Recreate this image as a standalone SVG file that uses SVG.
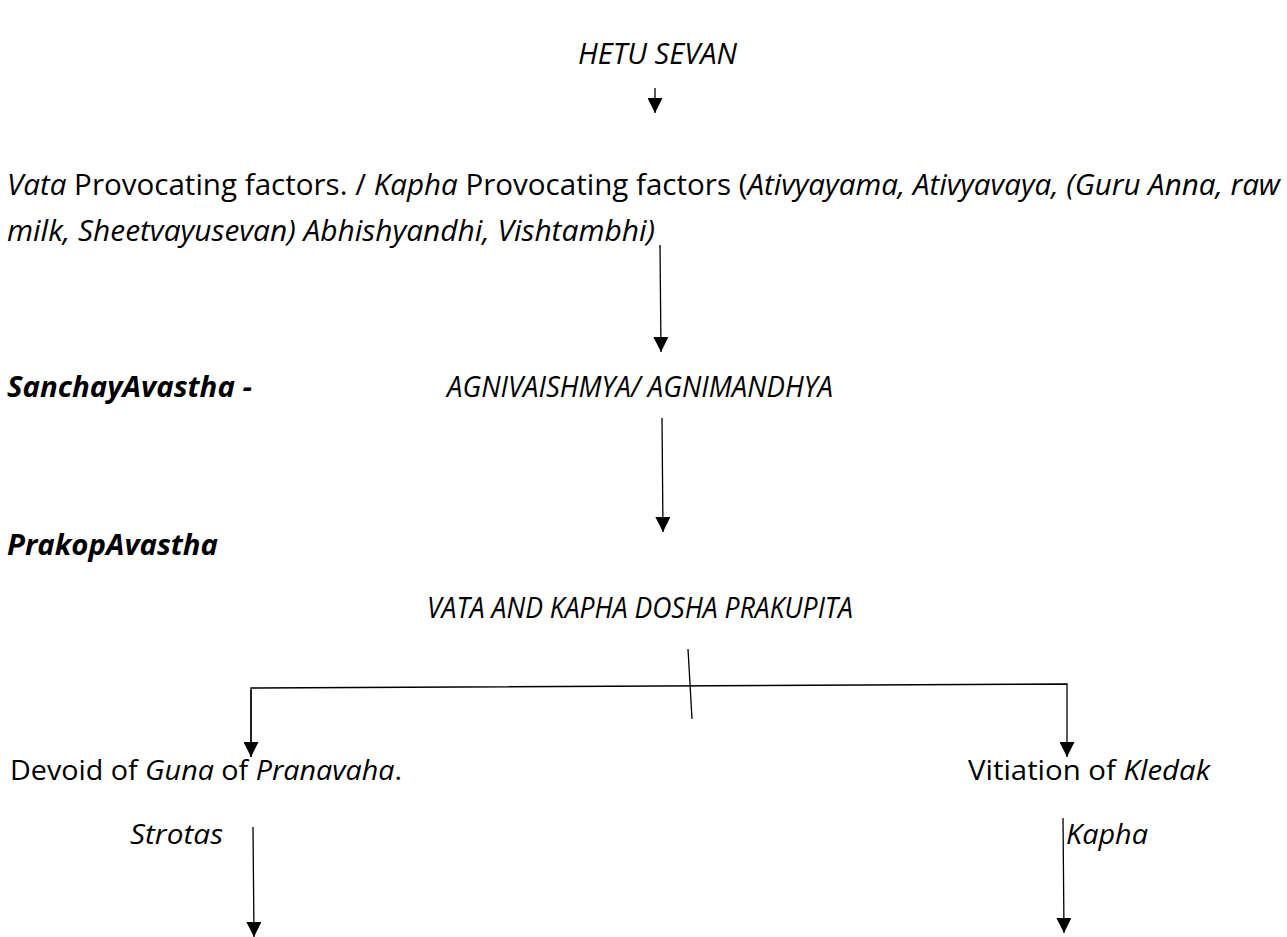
<svg xmlns="http://www.w3.org/2000/svg" width="1287" height="937" viewBox="0 0 1287 937">
<style>
.t{font-family:"Open Sans","Noto Sans","Liberation Sans",sans-serif;font-size:27px;fill:#000}
.s{font-size:29px}
.i{font-style:italic}
.b{font-weight:bold}
.c{stroke:#000;stroke-width:1.3;fill:none}
</style>
<defs>
<marker id="ah" markerUnits="userSpaceOnUse" markerWidth="15" markerHeight="15" viewBox="0 0 15 15" refX="15" refY="7.5" orient="auto">
<path d="M0,0 L15,7.5 L0,15 z" fill="#000"/>
</marker>
</defs>
<rect width="1287" height="937" fill="#fff"/>
<g id="connectors">
<line class="c" x1="655" y1="88" x2="655" y2="113" marker-end="url(#ah)"/>
<line class="c" x1="660" y1="245" x2="661" y2="352" marker-end="url(#ah)"/>
<line class="c" x1="662" y1="418" x2="663" y2="532" marker-end="url(#ah)"/>
<line class="c" x1="688" y1="649" x2="692" y2="719"/>
<polyline class="c" points="251,757 251,688 1067,684 1067,757" marker-end="url(#ah)"/>
<line class="c" x1="251" y1="690" x2="251" y2="757" marker-end="url(#ah)"/>
<line class="c" x1="253" y1="827" x2="254" y2="937" marker-end="url(#ah)"/>
<line class="c" x1="1063" y1="818" x2="1064" y2="933" marker-end="url(#ah)"/>
</g>
<g id="n-hetu"><text class="t s i" x="578" y="64" textLength="159" lengthAdjust="spacingAndGlyphs">HETU SEVAN</text></g>
<g id="n-factors">
<text class="t s" x="7" y="195" textLength="1273" lengthAdjust="spacingAndGlyphs"><tspan class="i">Vata</tspan> Provocating factors. / <tspan class="i">Kapha</tspan> Provocating factors (<tspan class="i">Ativyayama, Ativyavaya, (Guru Anna, raw</tspan></text>
<text class="t s i" x="7" y="241" textLength="648" lengthAdjust="spacingAndGlyphs">milk, Sheetvayusevan) Abhishyandhi, Vishtambhi)</text>
</g>
<g id="n-sanchay"><text class="t s i b" x="7" y="397" textLength="245" lengthAdjust="spacingAndGlyphs">SanchayAvastha -</text></g>
<g id="n-agni"><text class="t s i" x="447" y="397" textLength="386" lengthAdjust="spacingAndGlyphs">AGNIVAISHMYA/ AGNIMANDHYA</text></g>
<g id="n-prakop"><text class="t s i b" x="7" y="555" textLength="211" lengthAdjust="spacingAndGlyphs">PrakopAvastha</text></g>
<g id="n-prakupita"><text class="t s i" x="427" y="618" textLength="426" lengthAdjust="spacingAndGlyphs">VATA AND KAPHA DOSHA PRAKUPITA</text></g>
<g id="n-devoid">
<text class="t" x="10" y="780" textLength="392" lengthAdjust="spacingAndGlyphs">Devoid of <tspan class="i">Guna</tspan> of <tspan class="i">Pranavaha</tspan>.</text>
<text class="t i" x="130" y="844" textLength="93" lengthAdjust="spacingAndGlyphs">Strotas</text>
</g>
<g id="n-kledak">
<text class="t" x="968" y="780" textLength="242" lengthAdjust="spacingAndGlyphs">Vitiation of <tspan class="i">Kledak</tspan></text>
<text class="t i" x="1066" y="844" textLength="82" lengthAdjust="spacingAndGlyphs">Kapha</text>
</g>
</svg>
